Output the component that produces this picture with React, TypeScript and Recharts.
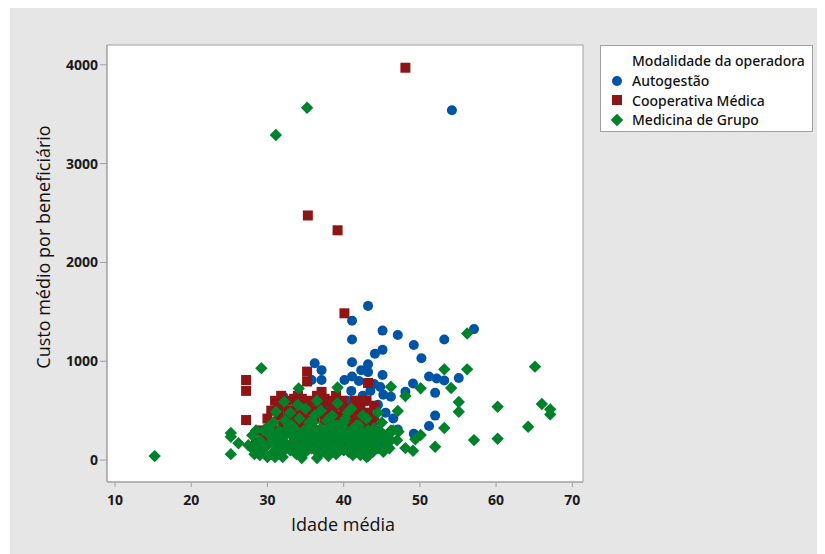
import { ScatterChart, Scatter, XAxis, YAxis, CartesianGrid, ReferenceArea, Legend } from 'recharts';

const xTicks = [10, 20, 30, 40, 50, 60, 70];
const yTicks = [0, 1000, 2000, 3000, 4000];

const autogestao: [number, number][] = [
    [54.2, 3540], [43.2, 1560], [41.1, 1410], [45.1, 1310], [47.1, 1265], [41.1, 1220], [53.2, 1220],
    [57.1, 1325], [49.2, 1165], [45.1, 1115], [44.1, 1075], [50.2, 1030], [41.1, 990], [43.2, 970],
    [42.3, 910], [43.2, 890], [45.1, 860], [40.1, 810], [41.1, 845], [49.1, 775], [51.2, 845],
    [52.2, 825], [53.2, 805], [55.1, 830], [48.1, 690], [46.2, 640], [45.2, 660], [52.0, 680],
    [52.0, 450], [51.2, 345], [47.1, 310], [49.2, 265], [36.2, 980], [37.1, 910], [35.8, 810],
    [37.1, 810], [32.1, 640], [28.2, 120], [42.0, 800], [44.0, 770], [44.8, 740], [43.5, 700],
    [42.5, 650], [41.0, 700], [40.5, 600], [39.5, 560], [38.0, 520], [44.5, 560], [45.5, 480],
    [46.5, 420], [43.5, 450], [42.0, 380], [41.5, 300], [40.0, 250], [44.5, 230], [46.0, 200],
    [45.0, 160], [43.0, 160], [39.0, 350], [37.5, 440], [36.0, 600], [35.0, 500], [33.5, 400],
    [34.0, 300], [31.5, 200], [29.5, 250], [38.5, 150],
];

const cooperativa: [number, number][] = [
    [48.1, 3970], [35.3, 2475], [39.2, 2325], [40.1, 1485], [27.2, 810], [27.2, 700], [27.2, 405],
    [35.2, 895], [35.2, 795], [43.2, 780], [37.1, 690], [41.1, 120],
    [29.0, 300], [29.5, 250], [30.0, 200], [30.5, 350], [31.0, 600], [31.5, 450], [32.0, 550],
    [32.5, 400], [33.0, 500], [33.0, 300], [33.5, 620], [34.0, 450], [34.5, 550], [35.0, 350],
    [35.5, 600], [35.5, 450], [36.0, 500], [36.5, 650], [37.0, 550], [37.5, 400], [38.0, 600],
    [38.0, 300], [38.5, 480], [39.0, 200], [39.0, 550], [40.0, 450], [40.5, 350], [41.0, 520],
    [41.5, 600], [42.0, 450], [42.5, 250], [43.0, 600], [43.0, 350], [42.0, 150], [36.0, 250],
    [34.0, 200], [32.0, 250], [30.0, 420], [28.5, 180], [37.0, 120], [39.5, 110], [44.0, 550],
    [41.5, 200],
    [30.5, 500], [31.0, 300], [31.5, 550], [32.0, 350], [32.5, 600], [32.8, 480], [33.2, 420],
    [33.5, 250], [33.8, 550], [34.2, 350], [34.5, 620], [34.8, 420], [35.0, 250], [35.2, 550],
    [35.8, 350], [36.2, 420], [36.5, 300], [36.8, 580], [37.2, 480], [37.5, 620], [37.8, 250],
    [38.2, 400], [38.5, 550], [38.8, 350], [39.2, 450], [39.5, 300], [39.8, 600], [40.2, 520],
    [40.5, 250], [40.8, 420], [41.2, 350], [41.8, 480], [42.2, 550], [42.8, 400], [43.2, 480],
    [43.5, 250], [44.0, 400], [33.0, 150], [35.5, 150], [40.0, 150], [42.5, 600], [31.8, 650],
    [34.0, 650], [39.0, 650],
];

const medicina: [number, number][] = [
    [35.2, 3565], [31.1, 3290], [15.2, 40], [29.2, 930], [25.2, 275], [25.2, 235], [26.2, 170],
    [25.2, 60], [34.1, 725], [39.2, 735], [39.2, 575], [31.1, 490], [32.2, 590], [56.2, 1280],
    [53.2, 918], [56.2, 918], [65.1, 945], [46.2, 742], [50.1, 726], [54.1, 729], [48.1, 648],
    [55.1, 587], [55.1, 489], [60.2, 540], [66.0, 567], [67.1, 513], [67.1, 462], [47.1, 496],
    [53.2, 324], [64.2, 337], [57.1, 202], [60.2, 216], [52.0, 135], [49.1, 94], [45.2, 84],
    [43.2, 40], [42.2, 50], [50.1, 253], [49.4, 210], [48.1, 121], [47.2, 286], [46.2, 200],
    [27.5, 150], [28.0, 250], [28.5, 300], [29.0, 200], [29.3, 100], [29.8, 320], [30.0, 150],
    [30.3, 250], [30.5, 60], [30.8, 380], [31.0, 200], [31.2, 120], [31.5, 300], [31.8, 80],
    [32.0, 220], [32.3, 400], [32.5, 150], [32.8, 280], [33.0, 100], [33.2, 350], [33.5, 200],
    [33.8, 60], [34.0, 260], [34.2, 420], [34.5, 150], [34.8, 300], [35.0, 80], [35.2, 220],
    [35.5, 380], [35.8, 120], [36.0, 280], [36.2, 450], [36.5, 180], [36.8, 60], [37.0, 320],
    [37.2, 230], [37.5, 100], [37.8, 400], [38.0, 200], [38.2, 300], [38.5, 140], [38.8, 250],
    [39.0, 60], [39.2, 350], [39.5, 180], [39.8, 280], [40.0, 100], [40.2, 420], [40.5, 220],
    [40.8, 150], [41.0, 300], [41.2, 50], [41.5, 250], [41.8, 180], [42.0, 350], [42.3, 100],
    [42.5, 280], [42.8, 200], [43.0, 420], [43.3, 150], [43.5, 250], [43.8, 80], [44.0, 320],
    [44.3, 200], [44.5, 120], [45.0, 380], [45.3, 250], [45.5, 180], [46.0, 120], [46.5, 300],
    [47.0, 200], [33.0, 480], [35.0, 520], [37.0, 500], [36.5, 600], [38.5, 450], [40.5, 480],
    [42.5, 450], [44.5, 480], [41.0, 520], [34.0, 560], [29.5, 300], [28.0, 120], [30.0, 30],
    [32.0, 30], [34.5, 20], [36.5, 20], [38.0, 40], [43.0, 30],
    [28.3, 60], [28.8, 180], [29.5, 140], [30.2, 340], [30.7, 200], [31.3, 260], [31.7, 160],
    [32.2, 100], [32.7, 330], [33.3, 260], [33.7, 140], [34.3, 100], [34.7, 230], [35.3, 310],
    [35.7, 200], [36.3, 100], [36.7, 250], [37.3, 150], [37.7, 300], [38.3, 80], [38.7, 350],
    [39.3, 120], [39.7, 220], [40.3, 300], [40.7, 80], [41.3, 200], [41.7, 350], [42.2, 250],
    [42.7, 120], [43.2, 300], [43.7, 180], [44.2, 260], [44.7, 300], [45.2, 100], [45.7, 250],
    [46.2, 300], [29.0, 50], [31.0, 30], [33.5, 320], [36.0, 380], [38.0, 130], [40.0, 380],
    [37.5, 230], [35.0, 150], [39.0, 300], [41.5, 120], [30.5, 280], [44.0, 150],
];

const BLUE = '#0054a6';
const RED = '#8e1515';
const GREEN = '#00822b';
const FONT = '"Open Sans", "Noto Sans", sans-serif';

const toPoints = (rows: [number, number][]) => rows.map(([x, y]) => ({ x, y }));

const Circle = ({ cx, cy }: any) => <circle cx={cx} cy={cy} r={5} fill={BLUE} />;
const Square = ({ cx, cy }: any) => <rect x={cx - 5} y={cy - 5} width={10} height={10} fill={RED} />;
const Diamond = ({ cx, cy }: any) => (
    <path d={`M${cx},${cy - 6.2}L${cx + 6.2},${cy}L${cx},${cy + 6.2}L${cx - 6.2},${cy}Z`} fill={GREEN} />
);

const legendItems = [
    { name: 'Autogestão', kind: 'circle', color: BLUE },
    { name: 'Cooperativa Médica', kind: 'square', color: RED },
    { name: 'Medicina de Grupo', kind: 'diamond', color: GREEN },
];

const LegendBox = () => (
    <div
        style={{
            boxSizing: 'border-box',
            width: 213,
            height: 87,
            background: '#fff',
            border: '1px solid #a0a0a0',
            fontFamily: '"Noto Sans", sans-serif',
            fontSize: 14,
            fontWeight: 500,
            color: '#111',
            padding: '5px 0 0 0',
        }}
    >
        <div style={{ paddingLeft: 31, height: 20, lineHeight: '20px' }}>Modalidade da operadora</div>
        {legendItems.map((it) => (
            <div key={it.name} style={{ display: 'flex', alignItems: 'center', height: 19.5 }}>
                <svg width={31} height={16} style={{ flex: 'none' }}>
                    {it.kind === 'circle' && <circle cx={16} cy={8} r={5} fill={it.color} />}
                    {it.kind === 'square' && <rect x={11} y={3} width={10} height={10} fill={it.color} />}
                    {it.kind === 'diamond' && <path d="M16,1.8L22.2,8L16,14.2L9.8,8Z" fill={it.color} />}
                </svg>
                <span style={{ lineHeight: '19px' }}>{it.name}</span>
            </div>
        ))}
    </div>
);

const tickStyle = { fontFamily: FONT, fontSize: 14, fontWeight: 700, fill: '#1a1a1a' };

export default function App() {
    return (
        <div style={{ marginLeft: 2, width: 815, height: 546, background: '#e6e6e6', position: 'relative' }}>
            <ScatterChart width={815} height={546} margin={{ top: 37, right: 242, bottom: 42, left: 37 }}>
                <CartesianGrid fill="#ffffff" horizontal={false} vertical={false} />
                <XAxis
                    type="number"
                    dataKey="x"
                    domain={[8.95, 71.4]}
                    ticks={xTicks}
                    allowDataOverflow
                    height={30}
                    stroke="#a0a0a0"
                    tickSize={5}
                    tickMargin={8}
                    tick={tickStyle}
                    label={{
                        content: () => (
                            <text x={333} y={516} textAnchor="middle" dominantBaseline="central" fontFamily={FONT} fontSize={18} fontWeight={500} fill="#111">
                                Idade média
                            </text>
                        ),
                    }}
                />
                <YAxis
                    type="number"
                    dataKey="y"
                    domain={[-222, 4200]}
                    ticks={yTicks}
                    allowDataOverflow
                    width={60}
                    stroke="#a0a0a0"
                    tickSize={7}
                    tickMargin={2}
                    tick={tickStyle}
                    label={{
                        content: () => (
                            <text
                                x={33}
                                y={239}
                                transform="rotate(-90 33 239)"
                                textAnchor="middle"
                                dominantBaseline="central"
                                fontFamily={FONT}
                                fontSize={18}
                                fontWeight={500}
                                fill="#111"
                            >
                                Custo médio por beneficiário
                            </text>
                        ),
                    }}
                />
                <ReferenceArea x1={8.95} x2={71.4} y1={-222} y2={4200} fill="none" stroke="#a0a0a0" />
                <Scatter name="Autogestão" data={toPoints(autogestao)} shape={Circle} isAnimationActive={false} />
                <Scatter name="Cooperativa Médica" data={toPoints(cooperativa)} shape={Square} isAnimationActive={false} />
                <Scatter name="Medicina de Grupo" data={toPoints(medicina)} shape={Diamond} isAnimationActive={false} />
                <Legend
                    layout="vertical"
                    align="center"
                    verticalAlign="middle"
                    wrapperStyle={{ left: 590, top: 37, width: 213, height: 87 }}
                    content={() => <LegendBox />}
                />
            </ScatterChart>
        </div>
    );
}
